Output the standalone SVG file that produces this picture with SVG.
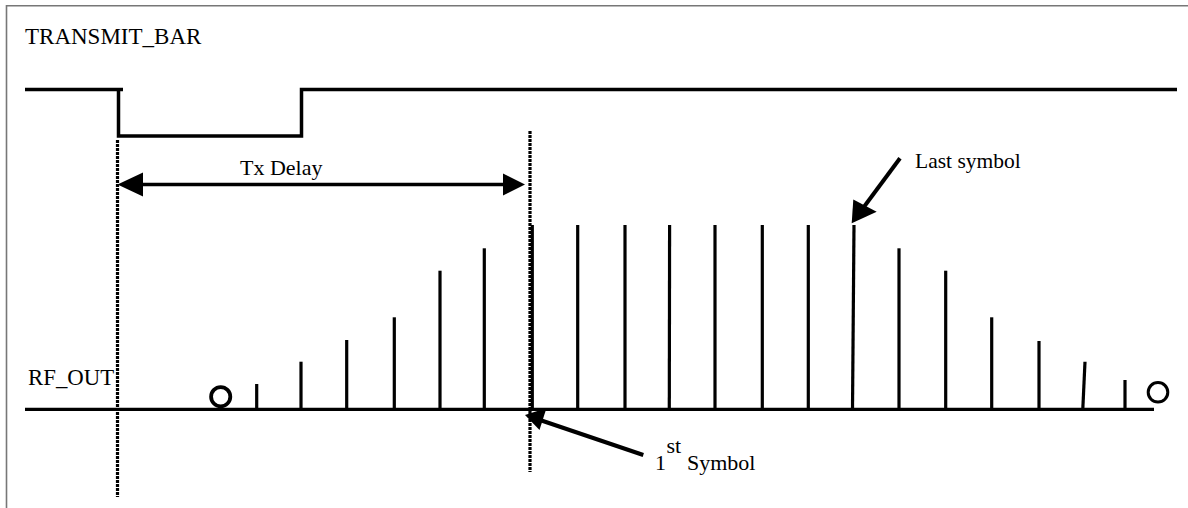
<svg xmlns="http://www.w3.org/2000/svg" width="1188" height="508" viewBox="0 0 1188 508">
<style>
text{font-family:'Liberation Serif','Times New Roman',Times,serif;fill:#000}
.t24{font-size:23px}
.t23{font-size:22.8px}
.t22{font-size:22px}
.t21{font-size:21.5px}
.sig{stroke:#000;stroke-width:3.5;fill:none;stroke-linecap:butt}
.bar{stroke:#000;stroke-width:3.2;fill:none}
.dash{stroke:#000;stroke-width:3.2;fill:none;stroke-dasharray:3 1}
.arr{stroke:#000;stroke-width:3.5;fill:none}
.head{fill:#000;stroke:none}
.frame{stroke:#777;stroke-width:1.6;fill:none}
</style>
<rect width="1188" height="508" fill="#fff"/>
<g id="frame">
<path class="frame" d="M6.5,508 V5.8 H1188"/>
</g>
<g id="labels">
<text class="t24" x="25" y="43.5">TRANSMIT_BAR</text>
<text class="t23" x="28" y="385">RF_OUT</text>
<text class="t22" x="240" y="175">Tx Delay</text>
<text class="t21" x="915" y="168">Last symbol</text>
<text class="t22" x="655" y="470">1</text>
<text class="t22" x="666.5" y="453">st</text>
<text class="t22" x="687" y="470">Symbol</text>
</g>
<g id="transmit_bar">
<path class="sig" d="M25,89.5 H123 M118.5,89.5 V136 H301.5 V89.5 H1177"/>
</g>
<g id="markers">
<line class="dash" x1="117.5" y1="140" x2="117.5" y2="497"/>
<line class="dash" x1="530" y1="131" x2="530" y2="472"/>
</g>
<g id="rf_out">
<line class="sig" x1="25" y1="409.3" x2="1154" y2="409.3" style="stroke-width:3.2"/>
<circle cx="220.7" cy="396.7" r="9.6" fill="none" stroke="#000" stroke-width="3.8"/>
<circle cx="1158" cy="392.3" r="9.8" fill="none" stroke="#000" stroke-width="3"/>
<g id="bars">
<line class="bar" x1="256.7" y1="409" x2="256.7" y2="384"/>
<line class="bar" x1="301" y1="409" x2="301" y2="361.7"/>
<line class="bar" x1="346.7" y1="409" x2="346.7" y2="340"/>
<line class="bar" x1="394.3" y1="409" x2="394.3" y2="317.3"/>
<line class="bar" x1="440" y1="409" x2="440" y2="270.7"/>
<line class="bar" x1="484.3" y1="409" x2="484.3" y2="248.3"/>
<line class="bar" x1="532.3" y1="409" x2="532.3" y2="225"/>
<line class="bar" x1="577.7" y1="409" x2="577.7" y2="225"/>
<line class="bar" x1="625" y1="409" x2="625" y2="225"/>
<line class="bar" x1="669.3" y1="409" x2="669.6" y2="225"/>
<line class="bar" x1="715" y1="409" x2="715" y2="225"/>
<line class="bar" x1="762.3" y1="409" x2="762.3" y2="225"/>
<line class="bar" x1="808.3" y1="409" x2="808.3" y2="225"/>
<line class="bar" x1="852.5" y1="409" x2="854" y2="225"/>
<line class="bar" x1="899" y1="409" x2="899" y2="248.3"/>
<line class="bar" x1="945.7" y1="409" x2="945.7" y2="270.7"/>
<line class="bar" x1="991.7" y1="409" x2="991.7" y2="317.3"/>
<line class="bar" x1="1039" y1="409" x2="1039" y2="341"/>
<line class="bar" x1="1082.8" y1="409" x2="1085" y2="361.7"/>
<line class="bar" x1="1125" y1="409" x2="1125" y2="380"/>
</g>
</g>
<g id="connectors">
<line class="arr" x1="140" y1="184.5" x2="505" y2="184.5"/>
<polygon class="head" points="117.5,184.5 143,172.5 143,196.5"/>
<polygon class="head" points="525,184.5 503,173.5 503,195.5"/>
<line class="arr" x1="900" y1="158.3" x2="862" y2="209.5" style="stroke-width:4"/>
<polygon class="head" points="851.7,223.3 853.3,199.5 876.7,211.7"/>
<line class="arr" x1="643.3" y1="455" x2="540" y2="420" style="stroke-width:4"/>
<polygon class="head" points="525,415 546.5,408 539.5,430"/>
</g>
</svg>
